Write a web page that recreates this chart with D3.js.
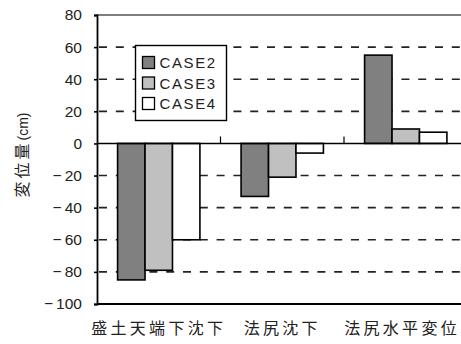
<!DOCTYPE html>
<html>
<head>
<meta charset="utf-8">
<script src="https://cdn.jsdelivr.net/npm/d3@7"></script>
<style>
  html, body { margin: 0; padding: 0; background: #fff; overflow: hidden; }
  svg { display: block; }
</style>
</head>
<body>
<svg id="chart" width="461" height="344"></svg>
<script>
// Displacement by case (cm)
const categories = ["盛土天端下沈下", "法尻沈下", "法尻水平変位"];
const series = ["CASE2", "CASE3", "CASE4"];
const case2 = [-85, -33, 55];
const case3 = [-79, -21, 9];
const case4 = [-60, -6, 7];
const yTicks = [80, 60, 40, 20, 0, -20, -40, -60, -80, -100];
const gridValues = [60, 40, 20, -20, -40, -60, -80];
const fills = ["#808080", "#c0c0c0", "#ffffff"];

const values = [case2, case3, case4];
const rows = categories.map((c, i) => ({
  category: c,
  bars: series.map((s, j) => ({ series: s, value: values[j][i] }))
}));

const W = 461;
const svg = d3.select("#chart");
const plot = { left: 97, right: 467.5, top: 15, bottom: 304 };

const x0 = d3.scaleBand().domain(categories).range([plot.left, plot.right]).padding(0);
const x1 = d3.scaleBand().domain(series).range([0, x0.bandwidth()])
  .paddingInner(0).paddingOuter(0.75);
const y = d3.scaleLinear().domain([-100, 80]).range([plot.bottom, plot.top]);
const color = d3.scaleOrdinal().domain(series).range(fills);

// top frame
svg.append("line")
  .attr("x1", plot.left).attr("x2", plot.right)
  .attr("y1", y(80)).attr("y2", y(80))
  .attr("stroke", "#555").attr("stroke-width", 1.3);

// dashed gridlines
svg.append("g").selectAll("line").data(gridValues).join("line")
  .attr("x1", plot.left).attr("x2", plot.right)
  .attr("y1", d => y(d)).attr("y2", d => y(d))
  .attr("stroke", "#222").attr("stroke-width", 1.6)
  .attr("stroke-dasharray", "8,8.8")
  .attr("stroke-dashoffset", -2);

// bars
const groups = svg.append("g").selectAll("g").data(rows).join("g")
  .attr("transform", d => `translate(${x0(d.category)},0)`);
groups.selectAll("rect").data(d => d.bars).join("rect")
  .attr("x", d => x1(d.series))
  .attr("width", x1.bandwidth())
  .attr("y", d => y(Math.max(0, d.value)))
  .attr("height", d => Math.abs(y(d.value) - y(0)))
  .attr("fill", d => color(d.series))
  .attr("stroke", "#000").attr("stroke-width", 1.6);

// zero line with category dividers
svg.append("line")
  .attr("x1", plot.left).attr("x2", plot.right)
  .attr("y1", y(0)).attr("y2", y(0))
  .attr("stroke", "#000").attr("stroke-width", 1.6);
svg.append("g").selectAll("line").data(categories.slice(1)).join("line")
  .attr("x1", d => x0(d)).attr("x2", d => x0(d))
  .attr("y1", y(0) - 7).attr("y2", y(0))
  .attr("stroke", "#000").attr("stroke-width", 1.2);

// bottom frame
svg.append("line")
  .attr("x1", plot.left).attr("x2", plot.right)
  .attr("y1", y(-100)).attr("y2", y(-100))
  .attr("stroke", "#000").attr("stroke-width", 1.8);

// value axis
const yAxis = d3.axisLeft(y).tickValues(yTicks).tickSize(3).tickPadding(12)
  .tickFormat(d => d < 0 ? "\u2212\u2009" + Math.abs(d) : String(d));
const ya = svg.append("g").attr("transform", `translate(${plot.left},0)`).call(yAxis);
ya.select(".domain").attr("stroke", "#000").attr("stroke-width", 1.8);
ya.selectAll(".tick line").attr("stroke", "#000").attr("stroke-width", 1.6);
ya.selectAll(".tick text")
  .attr("font-family", "'Liberation Sans', Arial, sans-serif")
  .attr("font-size", 15.5).attr("fill", "#222");

// category labels, kept inside the drawing width
svg.append("g").selectAll("text").data(categories).join("text")
  .attr("x", d => x0(d) + x0.bandwidth() / 2)
  .attr("y", 334)
  .attr("text-anchor", "middle")
  .attr("font-family", "'Noto Sans CJK JP', sans-serif")
  .attr("font-size", 16).attr("letter-spacing", 3.3)
  .attr("fill", "#222")
  .text(d => d)
  .each(function () {
    const b = this.getBBox();
    const over = b.x + b.width - (W - 1);
    if (over > 0) d3.select(this).attr("x", +this.getAttribute("x") - over);
  });

// value axis title
const title = svg.append("text")
  .attr("transform", "translate(28,155) rotate(-90)")
  .attr("text-anchor", "middle")
  .attr("font-family", "'Noto Sans CJK JP', sans-serif")
  .attr("fill", "#222");
title.append("tspan").attr("font-size", 16).attr("letter-spacing", 3).text("変位量");
title.append("tspan").attr("font-size", 14)
  .attr("font-family", "'Liberation Sans', Arial, sans-serif").text("(cm)");

// legend
const legend = svg.append("g").attr("transform", "translate(135.5,45.5)");
legend.append("rect").attr("width", 91).attr("height", 75)
  .attr("fill", "#fff").attr("stroke", "#000").attr("stroke-width", 1.4);
const item = legend.selectAll("g.item").data(series).join("g")
  .attr("class", "item")
  .attr("transform", (d, i) => `translate(7,${11 + i * 20.5})`);
item.append("rect").attr("width", 12).attr("height", 12)
  .attr("fill", d => color(d)).attr("stroke", "#000").attr("stroke-width", 1.3);
item.append("text").attr("x", 17).attr("y", 11.5)
  .attr("font-family", "'Liberation Sans', Arial, sans-serif")
  .attr("font-size", 15).attr("letter-spacing", 1.6).attr("fill", "#222")
  .text(d => d);
</script>
</body>
</html>
